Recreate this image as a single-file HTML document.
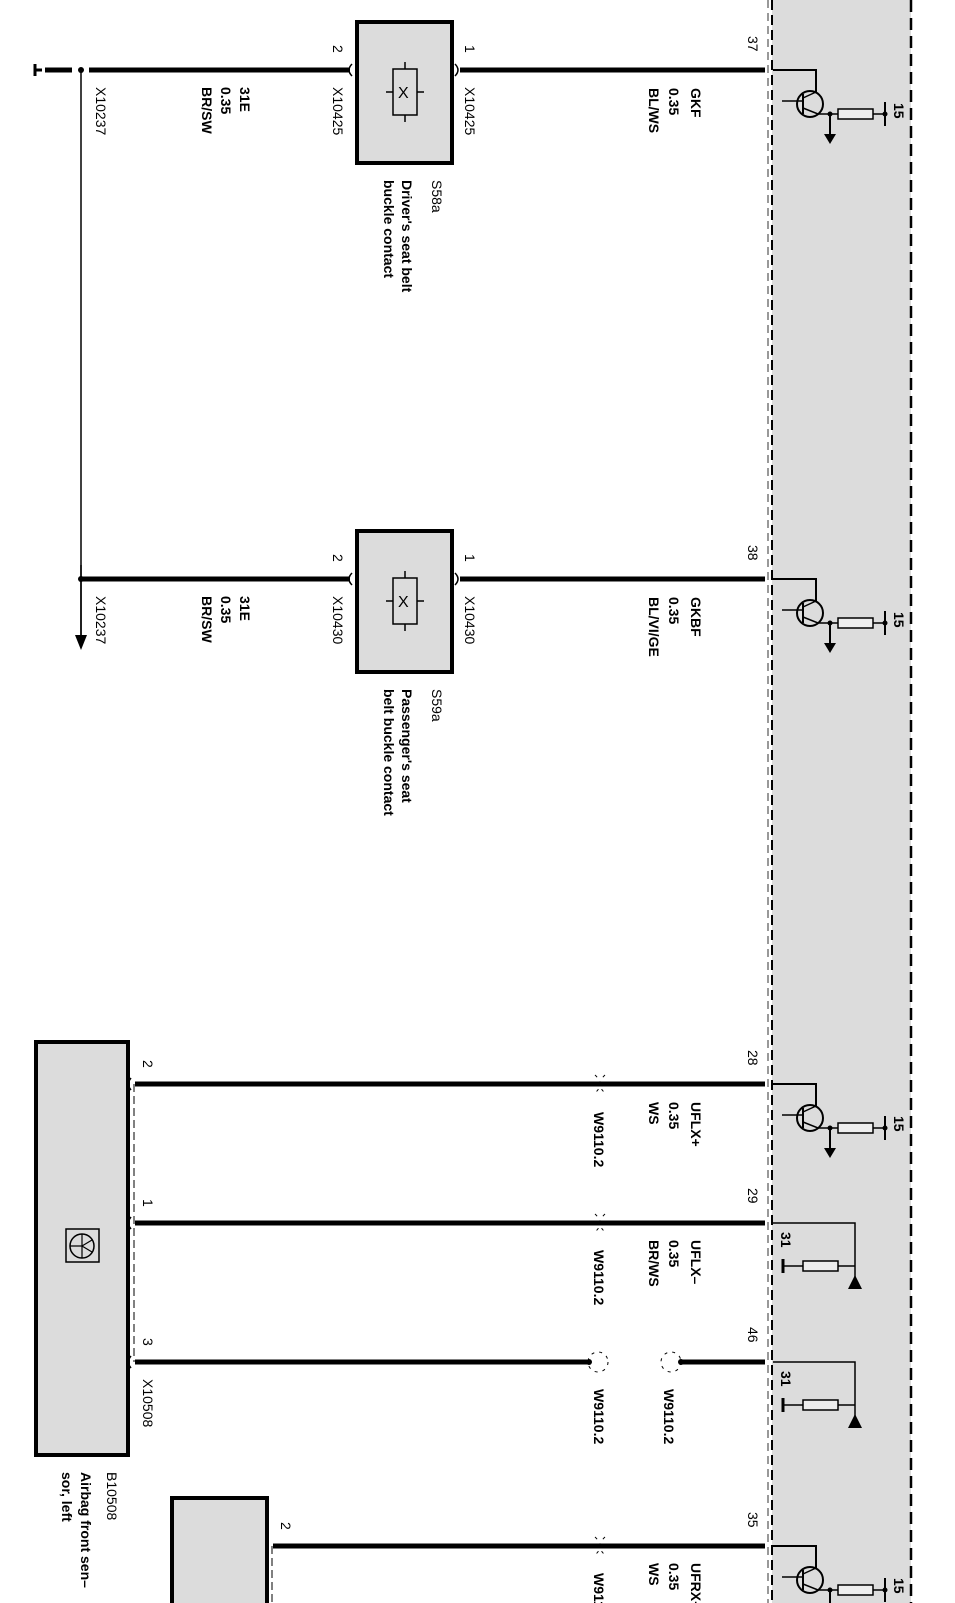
<!DOCTYPE html>
<html><head><meta charset="utf-8"><style>
html,body{margin:0;padding:0;background:#fff}
svg{display:block}
text{font-family:"Liberation Sans",Arial,sans-serif;font-size:14px;fill:#000}
.b{font-weight:bold}
</style></head><body>
<svg width="955" height="1603" viewBox="0 0 955 1603" xmlns="http://www.w3.org/2000/svg">
<defs>
<g id="tr">
  <path d="M773 0 H816 V22" fill="none" stroke="#000" stroke-width="2"/>
  <circle cx="810" cy="34" r="13" fill="none" stroke="#000" stroke-width="2"/>
  <line x1="782" y1="31" x2="803" y2="31" stroke="#000" stroke-width="1.5"/>
  <line x1="803" y1="24" x2="803" y2="44" stroke="#000" stroke-width="2"/>
  <path d="M803 28 L816 22 M803 38 L818 44 H885" fill="none" stroke="#000" stroke-width="1.5"/>
  <circle cx="830" cy="44" r="2.5" fill="#000"/>
  <line x1="830" y1="44" x2="830" y2="66" stroke="#000" stroke-width="2"/>
  <path d="M824 64 L836 64 L830 74 Z" fill="#000"/>
  <rect x="838" y="39" width="35" height="10" fill="#eee" stroke="#000" stroke-width="1.5"/>
  <line x1="885" y1="32" x2="885" y2="56" stroke="#000" stroke-width="2"/>
  <circle cx="885" cy="44" r="2.5" fill="#000"/>
</g>
<g id="gnd">
  <path d="M773 0 H855 V60" fill="none" stroke="#000" stroke-width="1.5"/>
  <path d="M848 66 L862 66 L855 52 Z" fill="#000"/>
  <rect x="803" y="38" width="35" height="10" fill="#eee" stroke="#000" stroke-width="1.5"/>
  <path d="M783 43 H803 M838 43 H855" stroke="#000" stroke-width="1.5"/>
  <line x1="783" y1="36" x2="783" y2="50" stroke="#000" stroke-width="3"/>
</g>
</defs>
<!-- shaded control unit -->
<rect x="772" y="-5" width="139" height="1615" fill="#dcdcdc"/>
<line x1="768" y1="0" x2="768" y2="1603" stroke="#999" stroke-width="2" stroke-dasharray="8,5"/>
<line x1="772" y1="0" x2="772" y2="1603" stroke="#000" stroke-width="2" stroke-dasharray="10,5"/>
<line x1="911" y1="0" x2="911" y2="1603" stroke="#000" stroke-width="2.5" stroke-dasharray="12,6"/>

<!-- wire 37 -->
<line x1="45" y1="70" x2="72" y2="70" stroke="#000" stroke-width="5"/>
<line x1="89" y1="70" x2="350" y2="70" stroke="#000" stroke-width="5"/>
<line x1="460" y1="70" x2="765" y2="70" stroke="#000" stroke-width="5"/>
<path d="M35 64 V76 M35 70 H42" stroke="#000" stroke-width="3"/>
<circle cx="81" cy="70" r="3" fill="#000"/>
<line x1="81" y1="70" x2="81" y2="640" stroke="#000" stroke-width="1.5"/>
<line x1="81" y1="565" x2="81" y2="640" stroke="#000" stroke-width="1.5"/>
<path d="M75 635 L87 635 L81 650 Z" fill="#000"/>
<rect x="357" y="22" width="95" height="141" fill="#dcdcdc" stroke="#000" stroke-width="4"/>
<rect x="393" y="69" width="24" height="46" fill="none" stroke="#000" stroke-width="1.5"/>
<path d="M405 62 V69 M405 115 V122 M386 92 H393 M417 92 H424" stroke="#000" stroke-width="1.5"/>
<text x="398" y="98" style="font-size:16px">X</text>
<path d="M352 64 q-6 6 0 12 M455 64 q6 6 0 12" fill="none" stroke="#000" stroke-width="1.5"/>
<use href="#tr" y="70"/>

<!-- wire 38 -->
<line x1="81" y1="579" x2="350" y2="579" stroke="#000" stroke-width="5"/>
<circle cx="81" cy="579" r="3" fill="#000"/>
<line x1="460" y1="579" x2="765" y2="579" stroke="#000" stroke-width="5"/>
<rect x="357" y="531" width="95" height="141" fill="#dcdcdc" stroke="#000" stroke-width="4"/>
<rect x="393" y="578" width="24" height="46" fill="none" stroke="#000" stroke-width="1.5"/>
<path d="M405 571 V578 M405 624 V631 M386 601 H393 M417 601 H424" stroke="#000" stroke-width="1.5"/>
<text x="398" y="607" style="font-size:16px">X</text>
<path d="M352 573 q-6 6 0 12 M455 573 q6 6 0 12" fill="none" stroke="#000" stroke-width="1.5"/>
<use href="#tr" y="579"/>

<!-- B10508 -->
<rect x="36" y="1042" width="92" height="413" fill="#dcdcdc" stroke="#000" stroke-width="4"/>
<rect x="66" y="1229" width="33" height="33" fill="none" stroke="#000" stroke-width="1.5"/>
<circle cx="82" cy="1246" r="12" fill="none" stroke="#000" stroke-width="1.5"/>
<path d="M70 1246 H82 M82 1234 V1258 M82 1246 L92 1240 M82 1246 L92 1252" stroke="#000" stroke-width="1.2"/>
<line x1="134" y1="1084" x2="134" y2="1362" stroke="#000" stroke-width="1" stroke-dasharray="8,4"/>
<line x1="135" y1="1084" x2="765" y2="1084" stroke="#000" stroke-width="5"/>
<line x1="135" y1="1223" x2="765" y2="1223" stroke="#000" stroke-width="5"/>
<line x1="135" y1="1362" x2="587" y2="1362" stroke="#000" stroke-width="5"/>
<line x1="682" y1="1362" x2="765" y2="1362" stroke="#000" stroke-width="5"/>
<circle cx="589" cy="1362" r="3" fill="#000"/><circle cx="681" cy="1362" r="3" fill="#000"/>
<circle cx="598" cy="1362" r="10" fill="none" stroke="#000" stroke-width="1" stroke-dasharray="3,5"/>
<circle cx="671" cy="1362" r="10" fill="none" stroke="#000" stroke-width="1" stroke-dasharray="3,5"/>
<path d="M595 1075 q10 9 0 18 M595 1214 q10 9 0 18 M605 1075 q-10 9 0 18 M605 1214 q-10 9 0 18" fill="none" stroke="#000" stroke-width="1" stroke-dasharray="3,5"/>
<path d="M131 1078 q-5 6 0 12 M131 1217 q-5 6 0 12 M131 1356 q-5 6 0 12" fill="none" stroke="#000" stroke-width="1.5"/>
<use href="#tr" y="1084"/>
<use href="#gnd" y="1223"/>
<use href="#gnd" y="1362"/>

<!-- bottom box -->
<rect x="172" y="1498" width="95" height="120" fill="#dcdcdc" stroke="#000" stroke-width="4"/>
<line x1="272" y1="1546" x2="272" y2="1603" stroke="#000" stroke-width="1" stroke-dasharray="8,4"/>
<line x1="273" y1="1546" x2="765" y2="1546" stroke="#000" stroke-width="5"/>
<path d="M595 1537 q10 9 0 18 M605 1537 q-10 9 0 18" fill="none" stroke="#000" stroke-width="1" stroke-dasharray="3,5"/>
<use href="#tr" y="1546"/>

<!-- rotated labels -->
<g>
<text transform="translate(240,87) rotate(90)" class="b">31E</text>
<text transform="translate(221,87) rotate(90)" class="b">0.35</text>
<text transform="translate(202,87) rotate(90)" class="b">BR/SW</text>
<text transform="translate(96,87) rotate(90)">X10237</text>
<text transform="translate(333,87) rotate(90)">X10425</text>
<text transform="translate(465,87) rotate(90)">X10425</text>
<text transform="translate(333,45) rotate(90)">2</text>
<text transform="translate(465,45) rotate(90)">1</text>
<text transform="translate(432,180) rotate(90)">S58a</text>
<text transform="translate(402,180) rotate(90)" class="b">Driver's seat belt</text>
<text transform="translate(384,180) rotate(90)" class="b">buckle contact</text>
<text transform="translate(691,88) rotate(90)" class="b">GKF</text>
<text transform="translate(669,88) rotate(90)" class="b">0.35</text>
<text transform="translate(649,88) rotate(90)" class="b">BL/WS</text>
<text transform="translate(748,36) rotate(90)">37</text>
<text transform="translate(894,103) rotate(90)" class="b">15</text>

<text transform="translate(240,596) rotate(90)" class="b">31E</text>
<text transform="translate(221,596) rotate(90)" class="b">0.35</text>
<text transform="translate(202,596) rotate(90)" class="b">BR/SW</text>
<text transform="translate(96,596) rotate(90)">X10237</text>
<text transform="translate(333,596) rotate(90)">X10430</text>
<text transform="translate(465,596) rotate(90)">X10430</text>
<text transform="translate(333,554) rotate(90)">2</text>
<text transform="translate(465,554) rotate(90)">1</text>
<text transform="translate(432,689) rotate(90)">S59a</text>
<text transform="translate(402,689) rotate(90)" class="b">Passenger's seat</text>
<text transform="translate(384,689) rotate(90)" class="b">belt buckle contact</text>
<text transform="translate(691,597) rotate(90)" class="b">GKBF</text>
<text transform="translate(669,597) rotate(90)" class="b">0.35</text>
<text transform="translate(649,597) rotate(90)" class="b">BL/VI/GE</text>
<text transform="translate(748,545) rotate(90)">38</text>
<text transform="translate(894,612) rotate(90)" class="b">15</text>

<text transform="translate(143,1060) rotate(90)">2</text>
<text transform="translate(594,1112) rotate(90)" class="b">W9110.2</text>
<text transform="translate(691,1102) rotate(90)" class="b">UFLX+</text>
<text transform="translate(669,1102) rotate(90)" class="b">0.35</text>
<text transform="translate(649,1102) rotate(90)" class="b">WS</text>
<text transform="translate(748,1050) rotate(90)">28</text>
<text transform="translate(894,1116) rotate(90)" class="b">15</text>

<text transform="translate(143,1199) rotate(90)">1</text>
<text transform="translate(594,1250) rotate(90)" class="b">W9110.2</text>
<text transform="translate(691,1240) rotate(90)" class="b">UFLX–</text>
<text transform="translate(669,1240) rotate(90)" class="b">0.35</text>
<text transform="translate(649,1240) rotate(90)" class="b">BR/WS</text>
<text transform="translate(748,1188) rotate(90)">29</text>
<text transform="translate(781,1232) rotate(90)" class="b">31</text>

<text transform="translate(143,1338) rotate(90)">3</text>
<text transform="translate(143,1379) rotate(90)">X10508</text>
<text transform="translate(594,1389) rotate(90)" class="b">W9110.2</text>
<text transform="translate(664,1389) rotate(90)" class="b">W9110.2</text>
<text transform="translate(748,1327) rotate(90)">46</text>
<text transform="translate(781,1371) rotate(90)" class="b">31</text>

<text transform="translate(107,1472) rotate(90)">B10508</text>
<text transform="translate(81,1472) rotate(90)" class="b">Airbag front sen–</text>
<text transform="translate(62,1472) rotate(90)" class="b">sor, left</text>

<text transform="translate(281,1522) rotate(90)">2</text>
<text transform="translate(594,1573) rotate(90)" class="b">W9110.2</text>
<text transform="translate(691,1563) rotate(90)" class="b">UFRX+</text>
<text transform="translate(669,1563) rotate(90)" class="b">0.35</text>
<text transform="translate(649,1563) rotate(90)" class="b">WS</text>
<text transform="translate(748,1512) rotate(90)">35</text>
<text transform="translate(894,1578) rotate(90)" class="b">15</text>
</g>
</svg>
</body></html>
